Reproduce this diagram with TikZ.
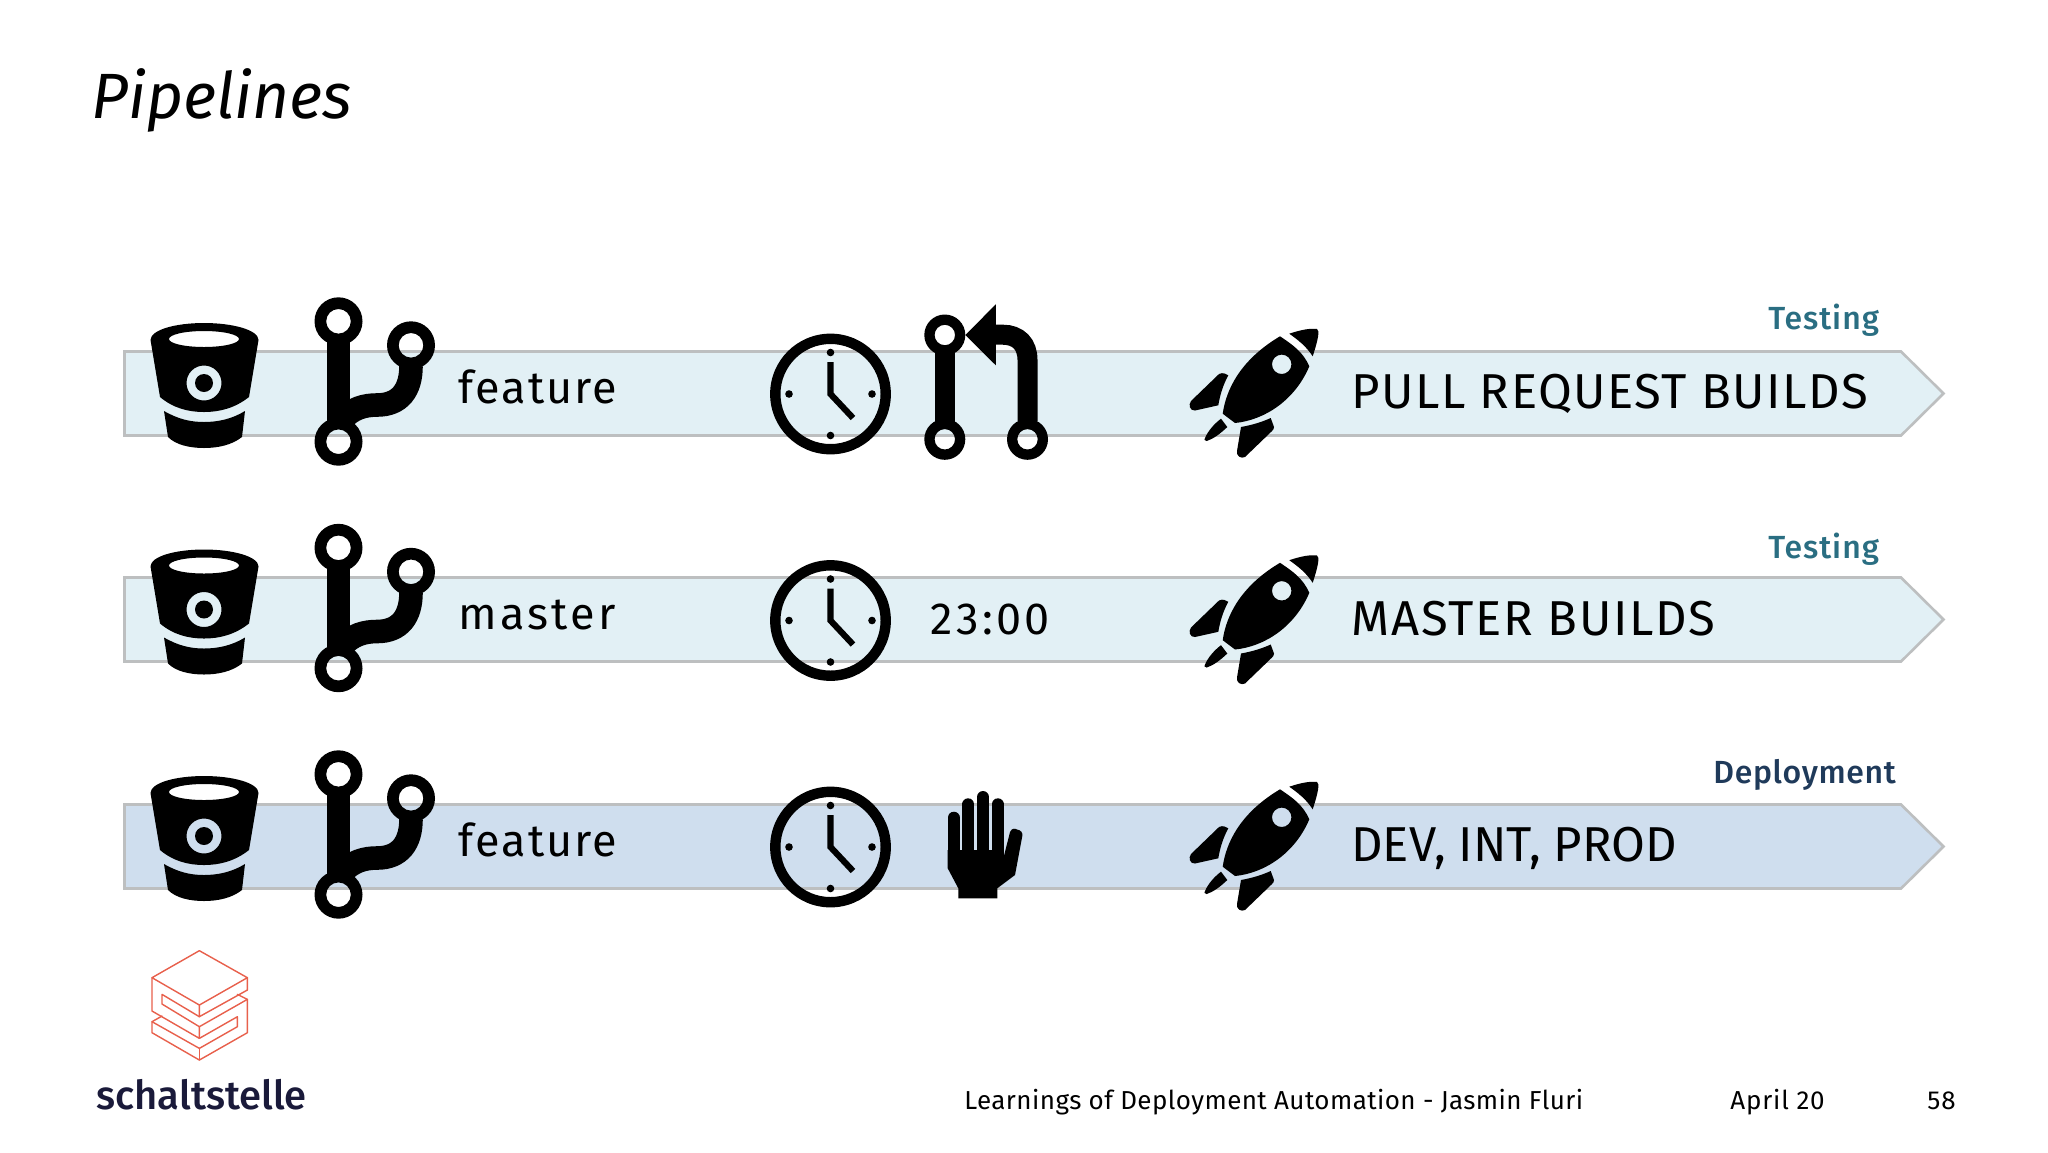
\documentclass[tikz,border=0pt]{standalone}
\usepackage{fontspec}
\setmainfont{Fira Sans}
\newfontfamily\medfont{Fira Sans Medium}
\newcommand{\spaced}[1]{\addfontfeature{LetterSpace=#1}}
\definecolor{bandA}{HTML}{E2F0F5}
\definecolor{bandB}{HTML}{CFDEEE}
\definecolor{bandline}{HTML}{BDBFC0}
\definecolor{tealtxt}{HTML}{2A6E82}
\definecolor{navytxt}{HTML}{1F3A5A}
\definecolor{logored}{HTML}{E8604C}
\definecolor{logotxt}{HTML}{1A1A3A}
\definecolor{ink}{HTML}{000000}
\tikzset{
  band/.style={draw=bandline,line width=1.3pt,line join=miter},
  rowtext/.style={anchor=base west,inner sep=0pt,text=ink,font=\fontsize{24.5}{29}\selectfont},
  sidetext/.style={anchor=base west,inner sep=0pt,text=ink,font=\fontsize{22.5}{27}\selectfont},
  tagtext/.style={anchor=base west,inner sep=0pt,font=\medfont\fontsize{16}{19}\selectfont},
  foottext/.style={anchor=base west,inner sep=0pt,text=ink,font=\fontsize{13}{15}\selectfont},
  logoline/.style={draw=logored,line width=0.7pt,line join=round,line cap=round},
  bucket/.pic={
    \fill[ink,even odd rule]
      (150.5,340) .. controls (150.5,330) and (175,323) .. (204,323)
      .. controls (233,323) and (258.5,330) .. (258.5,340)
      -- (249,397) .. controls (235,408) and (220,412) .. (204,412)
      .. controls (188,412) and (173,408) .. (160,397) -- cycle
      (204,339) ellipse [x radius=35,y radius=8]
      (204,383) circle [radius=17.5]
      (204,383) circle [radius=9];
    \fill[ink]
      (164,411) .. controls (178,419) and (190,422) .. (204,422)
      .. controls (218,422) and (232,419) .. (245,411)
      -- (242,437) .. controls (232,445) and (218,448) .. (204,448)
      .. controls (190,448) and (176,445) .. (168,437) -- cycle;
  },
  gitbranch/.pic={
    \fill[ink,even odd rule]
      (338.5,321.3) circle [radius=24] (338.5,321.3) circle [radius=12.3]
      (411,345.3) circle [radius=24] (411,345.3) circle [radius=12.3]
      (338.5,441.7) circle [radius=24] (338.5,441.7) circle [radius=12.3];
    \fill[ink] (326.7,340) rectangle (350.3,423);
    \draw[ink,line width=11.8pt]
      (411,366) .. controls (411,390) and (400,405) .. (377,405)
      .. controls (365,405) and (352,408) .. (342,420);
  },
  clock/.pic={
    \fill[ink,even odd rule]
      (830.5,394) circle [radius=60.4] (830.5,394) circle [radius=50];
    \foreach \dx/\dy in {0/-41.5,0/41.5,-41.5/0,41.5/0}
      \fill[ink] (830.5+\dx,394+\dy) circle [radius=3.8];
    \draw[ink,line width=3.1pt,line join=miter] (830.5,362) -- (830.5,394) -- (853,418);
  },
  rocket/.pic={
    \fill[ink,even odd rule]
      (1280,336.3) .. controls (1240,360) and (1226,390) .. (1222.7,413.7)
      -- (1235,423) .. controls (1265,420) and (1295,400) .. (1309.3,366.3)
      .. controls (1303,352) and (1293,345) .. (1280,336.3) -- cycle
      (1281.7,364.3) circle [radius=9.7];
    \fill[ink] (1289.3,333.7) .. controls (1300,330) and (1310,328) .. (1317,329)
      .. controls (1320,330) and (1318,340) .. (1312.7,356.3)
      .. controls (1306,346) and (1298,340) .. (1289.3,333.7) -- cycle;
    \fill[ink] (1228.3,375.3) .. controls (1226,374) and (1223,372) .. (1219,374)
      -- (1191,401) .. controls (1188,405) and (1190,411) .. (1195,410.5)
      -- (1218.3,405.3) .. controls (1220,395) and (1223,385) .. (1228.3,375.3) -- cycle;
    \fill[ink] (1270.7,418) -- (1274,427) .. controls (1274,429) and (1273,430) .. (1272,431)
      -- (1245,457) .. controls (1241,459) and (1236,456) .. (1237,451)
      -- (1241,427) .. controls (1252,425) and (1262,422) .. (1270.7,418) -- cycle;
    \fill[ink] (1221,418.7) -- (1227.3,427) .. controls (1220,434) and (1213,439) .. (1206.7,441)
      .. controls (1204,441) and (1204,439) .. (1205,438)
      .. controls (1208,431) and (1214,424) .. (1221,418.7) -- cycle;
  },
}
\begin{document}
\begin{tikzpicture}[x=0.5pt,y=-0.5pt]
\useasboundingbox (0,0) rectangle (2048,1152);
\fill[white] (0,0) rectangle (2048,1152);
% bands
\foreach \off/\col in {0/bandA,226/bandA,453/bandB}{
  \begin{scope}[shift={(0,\off)}]
    \draw[band,fill=\col] (124.5,351.5) -- (1901,351.5) -- (1943.5,393.5) -- (1901,435.5) -- (124.5,435.5) -- cycle;
  \end{scope}
}
% icons
\foreach \off in {0,226.5,453}{
  \begin{scope}[shift={(0,\off)}]
    \pic {bucket};
    \pic {gitbranch};
    \pic {clock};
    \pic {rocket};
  \end{scope}
}
% pull request icon
\fill[ink,even odd rule]
  (944.8,335) circle [radius=20.5] (944.8,335) circle [radius=10.2]
  (944.8,439.3) circle [radius=20.5] (944.8,439.3) circle [radius=10.2]
  (1027.5,439.3) circle [radius=20.5] (1027.5,439.3) circle [radius=10.2];
\fill[ink] (935,352) rectangle (955,422);
\draw[ink,line width=10pt] (990,334.7) -- (1003,334.7) .. controls (1018,334.7) and (1027.5,344) .. (1027.5,360) -- (1027.5,421);
\fill[ink] (965.4,335) -- (995.8,304.3) -- (995.8,365.3) -- cycle;
% hand
\fill[ink] (947.7,850) -- (1003.7,850) -- (1003.7,857) -- (1010,832)
  .. controls (1012,827) and (1016,829) .. (1017,829.5)
  .. controls (1021,830) and (1023,833) .. (1022.3,836)
  -- (1015,875) -- (997.3,888.3) -- (997.3,898.3) -- (958.3,898.3) -- (958.3,888.3) -- (947.7,868.3) -- cycle;
\draw[ink,line width=6pt,line cap=round]
  (953.7,817.7) -- (953.7,855)
  (968.3,804.3) -- (968.3,855)
  (983,797) -- (983,855)
  (997.7,804.3) -- (997.7,855);
% texts
\node[anchor=base west,inner sep=0pt,text=ink,font=\itshape\fontsize{32}{38}\selectfont] (title) at (91,118) {Pipelines};
\node[sidetext] (b1) at (458.5,403) {\spaced{4.5}feature};
\node[sidetext] (b2) at (458.5,629) {\spaced{7}master};
\node[sidetext] (b3) at (458.5,856.5) {\spaced{4.5}feature};
\node[sidetext] (t2) at (930.5,634) {\spaced{7.5}23:00};
\node[rowtext] (r1) at (1351,408) {\spaced{3}PULL REQUEST BUILDS};
\node[rowtext] (r2) at (1351,635) {\spaced{3.5}MASTER BUILDS};
\node[rowtext] (r3) at (1351,861) {DEV, INT, PROD};
\node[tagtext,text=tealtxt] (tag1) at (1768,329) {\spaced{3}Testing};
\node[tagtext,text=tealtxt] (tag2) at (1768,558) {\spaced{3}Testing};
\node[tagtext,text=navytxt] (tag3) at (1713,783) {\spaced{2}Deployment};
\node[foottext] (f1) at (964,1109) {\spaced{1.6}Learnings of Deployment Automation - Jasmin Fluri};
\node[foottext] (f2) at (1730,1109) {\spaced{3}April 20};
\node[foottext] (f3) at (1927,1109) {\spaced{4}58};
\node[anchor=base west,inner sep=0pt,text=logotxt,font=\medfont\fontsize{20}{24}\selectfont] (logo) at (96,1109) {schaltstelle};
% logo mark
\begin{scope}[shift={(80,930)},x=0.1667pt,y=-0.1667pt]
  \draw[logoline] (358,62) -- (502,143) -- (358,225) -- (216,143) -- cycle;
  \draw[logoline] (502,143) -- (502,180) -- (358,260) -- (358,225);
  \draw[logoline] (358,260) -- (246,193) -- (246,222) -- (358,290) -- (358,325) -- (216,243) -- (216,143);
  \draw[logoline] (358,290) -- (502,208) -- (472,193);
  \draw[logoline] (502,208) -- (502,308) -- (358,390) -- (216,308) -- (216,275) -- (246,258);
  \draw[logoline] (358,325) -- (472,260) -- (472,290) -- (358,355) -- (216,275);
  \draw[logoline] (358,355) -- (358,390);
\end{scope}
\end{tikzpicture}
\end{document}
